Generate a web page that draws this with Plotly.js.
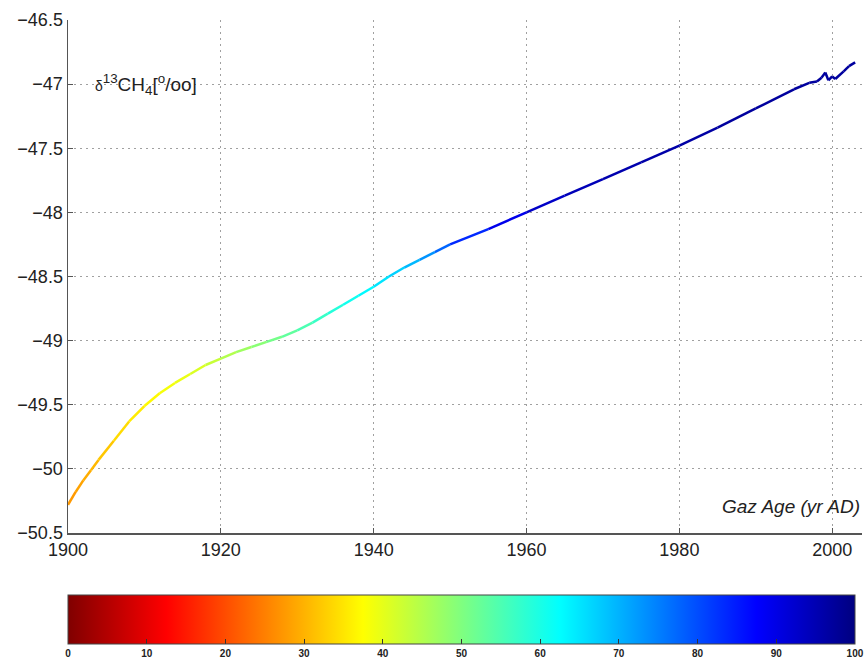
<!DOCTYPE html>
<html>
<head>
<meta charset="utf-8">
<script src="https://cdn.plot.ly/plotly-3.0.1.min.js"></script>
<style>html,body{margin:0;padding:0;background:#fff;}#chart{width:867px;height:666px;}</style>
</head>
<body>
<div id="chart"></div>
<script>
// Gas age (yr AD)
var gasAge = [1900, 1901, 1902, 1903, 1904, 1906, 1908, 1910, 1912, 1914, 1916, 1918, 1920,
  1922, 1924, 1926, 1928, 1930, 1932, 1934, 1936, 1938, 1940, 1942, 1944, 1946, 1948,
  1950, 1955, 1960, 1965, 1970, 1975, 1980, 1985, 1990, 1995, 1997, 1998, 1998.6,
  1999.1, 1999.5, 2000, 2000.4, 2001.5, 2002.2, 2003];
// delta13CH4 (permil)
var d13CH4 = [-50.28, -50.18, -50.09, -50.01, -49.93, -49.78, -49.63, -49.51, -49.41, -49.33, -49.26, -49.19, -49.14,
  -49.09, -49.05, -49.01, -48.97, -48.92, -48.86, -48.79, -48.72, -48.65, -48.58, -48.50, -48.43, -48.37, -48.31,
  -48.25, -48.13, -48.00, -47.87, -47.74, -47.61, -47.48, -47.34, -47.19, -47.04, -46.99, -46.98, -46.95,
  -46.91, -46.97, -46.94, -46.96, -46.90, -46.86, -46.83];
// colour value along the curve (0-100 scale)
var colorValue = [27, 28, 29, 30, 31, 33, 35, 36, 38, 39, 40, 42, 44,
  46, 48, 50, 52, 54, 56, 58, 60, 62, 64, 66, 68, 71, 75,
  80, 87, 92, 94, 95, 96, 96, 97, 97, 97, 97, 97, 97,
  97, 97, 97, 97, 97, 97, 97];
// colour bar ticks
var cbTicks = [0, 10, 20, 30, 40, 50, 60, 70, 80, 90, 100];
var xTicks = [1900, 1920, 1940, 1960, 1980, 2000];
var yTicks = [-50.5, -50, -49.5, -49, -48.5, -48, -47.5, -47, -46.5];

var jetStops = [[0, [128, 0, 0]], [0.125, [255, 0, 0]], [0.375, [255, 255, 0]],
  [0.625, [0, 255, 255]], [0.875, [0, 0, 255]], [1, [0, 0, 128]]];
var jetScale = jetStops.map(function (s) { return [s[0], 'rgb(' + s[1].join(',') + ')']; });
function jetColor(v) {
  var t = Math.max(0, Math.min(1, v / 100));
  for (var i = 0; i < jetStops.length - 1; i++) {
    var a = jetStops[i], b = jetStops[i + 1];
    if (t >= a[0] && t <= b[0]) {
      var f = (t - a[0]) / (b[0] - a[0]);
      var c = a[1].map(function (ca, k) { return Math.round(ca + f * (b[1][k] - ca)); });
      return 'rgb(' + c.join(',') + ')';
    }
  }
  return 'rgb(0,0,128)';
}

var traces = [];
for (var i = 0; i < gasAge.length - 1; i++) {
  traces.push({
    type: 'scatter', mode: 'lines',
    x: [gasAge[i], gasAge[i + 1]], y: [d13CH4[i], d13CH4[i + 1]],
    line: { color: jetColor((colorValue[i] + colorValue[i + 1]) / 2), width: 2.5 },
    hoverinfo: 'skip', showlegend: false
  });
}
// colour bar carrier
traces.push({
  type: 'scatter', mode: 'markers', x: [1950, 1950], y: [-60, -60],
  showlegend: false, hoverinfo: 'skip',
  marker: {
    color: [cbTicks[0], cbTicks[cbTicks.length - 1]], cmin: 0, cmax: 100.01,
    colorscale: jetScale, showscale: true, size: 1,
    colorbar: {
      orientation: 'h', xref: 'paper', yref: 'container',
      x: 0, xanchor: 'left', y: 1 / 666, yanchor: 'bottom',
      lenmode: 'fraction', len: 0.991, thickness: 49, xpad: 0, ypad: 0,
      outlinewidth: 1, outlinecolor: '#444',
      tickmode: 'array', tickvals: cbTicks, ticktext: cbTicks.map(String),
      ticks: 'inside', ticklen: 5, tickcolor: '#333',
      tickfont: { family: 'Liberation Sans, Arial, sans-serif', size: 10, color: '#222', weight: 'bold' }
    }
  }
});

var layout = {
  width: 867, height: 666,
  margin: { l: 68, r: 5, t: 20, b: 133 },
  paper_bgcolor: '#fff', plot_bgcolor: '#fff',
  font: { family: 'Liberation Sans, Arial, sans-serif', size: 18, color: '#222' },
  xaxis: {
    range: [1900, 2003.9], tickvals: xTicks, ticktext: xTicks.map(String),
    showgrid: true, gridcolor: '#a0a0a0', griddash: '2px,4px', gridwidth: 1,
    showline: true, linecolor: '#555', linewidth: 1.5,
    ticks: 'inside', ticklen: 5, tickcolor: '#555', zeroline: false,
    tickfont: { size: 18, color: '#222' }
  },
  yaxis: {
    range: [-50.5, -46.5], tickvals: yTicks, ticktext: yTicks.map(function (v) { return String(v).replace('-', '\u2212'); }),
    showgrid: true, gridcolor: '#a0a0a0', griddash: '2px,4px', gridwidth: 1,
    showline: true, linecolor: '#555', linewidth: 1.5,
    ticks: 'inside', ticklen: 5, tickcolor: '#555', zeroline: false,
    tickfont: { size: 18, color: '#222' }
  },
  annotations: [
    {
      xref: 'x', yref: 'y', x: 1903.3, y: -47.0, xanchor: 'left', yanchor: 'middle',
      showarrow: false,
      text: '<span style="font-size:14px">\u03b4</span><sup>13</sup>CH<sub>4</sub>[<sup>o</sup>/oo]',
      font: { size: 19, color: '#222' }
    },
    {
      xref: 'paper', yref: 'y', x: 1, y: -50.29, xanchor: 'right', yanchor: 'middle',
      showarrow: false, text: '<i>Gaz Age (yr AD)</i>',
      font: { size: 19, color: '#222' }
    }
  ]
};

Plotly.newPlot('chart', traces, layout, { displayModeBar: false, staticPlot: true });
</script>
</body>
</html>
